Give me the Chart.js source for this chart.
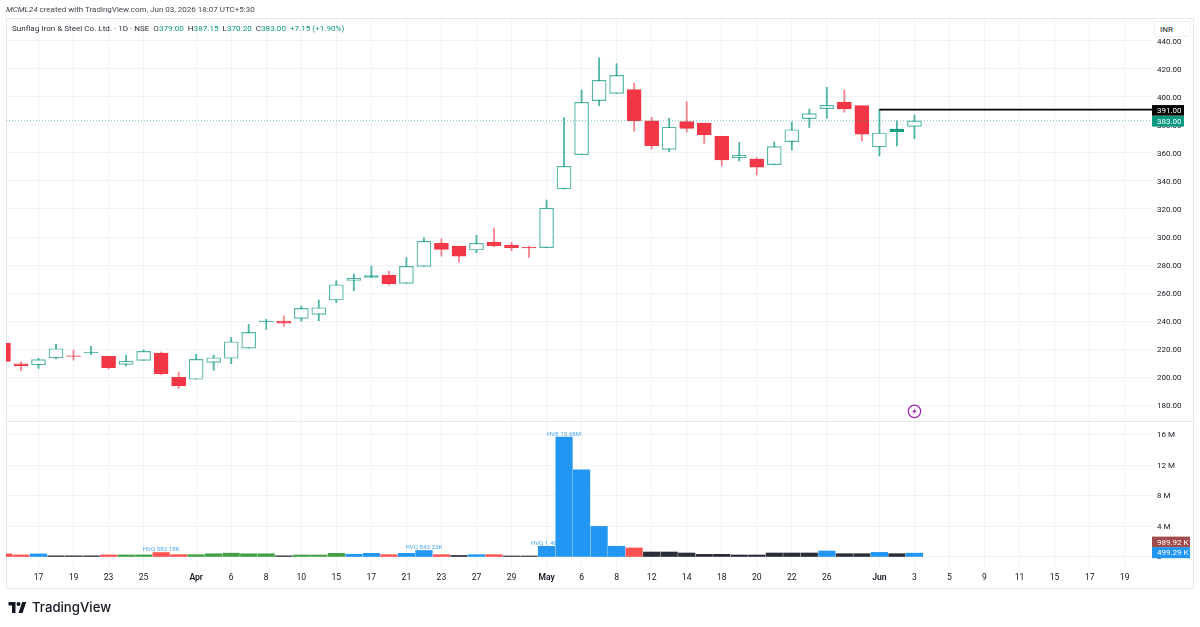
<!DOCTYPE html>
<html>
<head>
<meta charset="utf-8">
<title>Sunflag Iron & Steel Co. Ltd. 1D</title>
<style>
  html, body { margin: 0; padding: 0; background: #fff; }
  #wrap { position: relative; width: 1200px; height: 627px; overflow: hidden; font-family: Roboto, sans-serif; color: #131722; }
  #c { position: absolute; left: 0; top: 0; }
  .txt { position: absolute; white-space: nowrap; }
  #credit { left: 6px; top: 4.5px; font-size: 8px; color: #434651; }
  #credit i { font-style: italic; }
  #legend { left: 12px; top: 22.5px; font-size: 8.1px; color: #2a2e39; }
  #legend b { font-weight: 400; color: #089981; margin-right: 2px; }
  #unit { left: 1154px; top: 21px; width: 37px; height: 16px; box-sizing: border-box; border: 1px solid #eef0f5; border-radius: 3px;
          font-size: 8px; line-height: 16px; padding-left: 5px; background: #fff; }
  #brand { left: 32px; top: 599px; font-family: Inter, sans-serif; font-size: 13.2px; font-weight: 500; color: #131722; }
  #logo { position: absolute; left: 8px; top: 602px; }
</style>
</head>
<body>
<div id="wrap">
  <canvas id="c" width="1200" height="627"></canvas>
  <div class="txt" id="credit"><i>MCML24</i> created with TradingView.com, Jun 03, 2026 18:07 UTC+5:30</div>
  <div class="txt" id="legend">Sunflag Iron &amp; Steel Co. Ltd. · 1D · NSE &nbsp;O<b>379.00</b> H<b>387.15</b> L<b>370.20</b> C<b>383.00</b> <b>+7.15 (+1.90%)</b></div>
  <div class="txt" id="unit">INR</div>
  <svg id="logo" width="19" height="11" viewBox="0 0 36 22"><path fill="#131722" d="M14 22H7V7H0V0h14v22zM28 22h-8l7.5-22h8L28 22z"/><circle fill="#131722" cx="20" cy="4" r="4"/></svg>
  <div class="txt" id="brand">TradingView</div>
</div>

<script src="https://cdn.jsdelivr.net/npm/chart.js@4/dist/chart.umd.min.js"></script>
<script>
// Daily OHLC, one entry per session, oldest first
const opens = [224, 209.5, 208.6, 213.6, 215.2, 217.2, 214.8, 209, 211.9, 217.1, 199.8, 198.4, 210.5, 213.4, 220.7, 239.4, 240, 241.9, 244.8, 255,
  269, 271.2, 272.6, 266.9, 279, 295.5, 293.6, 290.7, 296.2, 294.3, 292.6, 292.4, 334.3, 358.8, 397.4, 402.6, 405.2, 382.9, 362.6, 382.4,
  381.4, 371.9, 356.7, 355.7, 351.7, 368.1, 384.5, 391.6, 396.4, 393.8, 364.3, 375.2, 379];
const highs = [224, 210.9, 213.4, 223.3, 219.3, 222, 214.8, 215.7, 219.3, 217.9, 203.6, 216.2, 215.7, 228.4, 237.6, 241.2, 243.6, 250.7, 255, 268.8,
  273.6, 279.3, 275.7, 285.2, 299.5, 298.8, 293.6, 301.2, 306.4, 296.2, 293.6, 326.4, 385.2, 405, 427.9, 423.8, 409.8, 385.5, 384.8, 396.6,
  381.4, 371.9, 367.6, 356.6, 367.9, 382.1, 391.4, 406.9, 405, 393.8, 391.2, 383, 387.15];
const lows = [211.1, 204.5, 206.2, 213.1, 212.1, 215.9, 205.9, 207.9, 211.9, 201.6, 191.7, 198.4, 204.8, 209.5, 220.7, 234, 236.2, 239.8, 240.2, 253.1,
  261.6, 271.2, 265.7, 266.9, 279, 286.4, 282.1, 288.8, 293.1, 290.2, 285.5, 292.4, 334.3, 358.8, 393.8, 402.6, 375.5, 362.9, 360.9, 375,
  366.9, 350.7, 354.3, 344.3, 351.7, 362.1, 378.1, 384.8, 389.1, 368.6, 357.9, 365, 370.2];
const closes = [211.1, 208, 212.4, 220.2, 214.8, 217.8, 206.6, 211.4, 218.3, 202.4, 193.6, 212.6, 213.8, 225.2, 231.9, 240, 238.5, 249, 249.5, 265.9,
  270.7, 272.4, 266.7, 279, 296.9, 291.2, 286.4, 295.5, 293.8, 292.4, 292.2, 320.7, 350.5, 396.2, 411.9, 415.4, 382.9, 365.2, 378.4, 377.6,
  372.9, 355, 358.4, 349.8, 364.5, 376.6, 388.1, 394, 391.4, 373.4, 374.3, 377, 383];

// Volume in millions and its indicator state: H high, G up, R down, K low
const volumes = [0.4, 0.27, 0.4, 0.15, 0.15, 0.15, 0.27, 0.27, 0.27, 0.58, 0.3, 0.3, 0.42, 0.5, 0.42, 0.42, 0.15, 0.26, 0.26, 0.48,
  0.35, 0.48, 0.3, 0.48, 0.84, 0.3, 0.2, 0.3, 0.3, 0.13, 0.13, 1.4, 15.68, 11.4, 4.0, 1.4, 1.18, 0.65, 0.65, 0.52,
  0.35, 0.35, 0.26, 0.26, 0.52, 0.52, 0.52, 0.78, 0.43, 0.43, 0.6, 0.43, 0.5];
const volumeStates = ['R', 'R', 'H', 'K', 'K', 'K', 'R', 'G', 'G', 'R', 'R', 'G', 'G', 'G', 'G', 'G', 'K', 'G', 'G', 'G',
  'H', 'H', 'R', 'H', 'H', 'R', 'K', 'H', 'R', 'K', 'K', 'H', 'H', 'H', 'H', 'H', 'R', 'K', 'K', 'K',
  'K', 'K', 'K', 'K', 'K', 'K', 'K', 'H', 'K', 'K', 'H', 'K', 'H'];

// Time axis
const timeTickIndex = [2, 4, 6, 8, 11, 13, 15, 17, 19, 21, 23, 25, 27, 29, 31, 33, 35, 37, 39, 41, 43, 45, 47, 50, 52, 54, 56, 58, 60, 62, 64];
const timeTickLabels = ['17', '19', '23', '25', 'Apr', '6', '8', '10', '15', '17', '21', '23', '27', '29', 'May', '6', '8', '12', '14', '18', '20', '22', '26', 'Jun', '3', '5', '9', '11', '15', '17', '19'];
const boldTimeLabels = ['Apr', 'May', 'Jun'];

const priceTicks = [180, 200, 220, 240, 260, 280, 300, 320, 340, 360, 380, 400, 420, 440];
const volumeTicks = [0, 4, 8, 12, 16];

// Volume flags above the bars
const flagIndex = [9, 24, 31, 32];
const flagVolumes = [0.58, 0.84, 1.4, 15.68];
const flagLabels = ['HVQ 582.18K', 'HVQ 843.23K', 'HVQ 1.40M', 'HVE 15.68M'];

// Sessions whose small body reads as a solid dash
const solidBodies = [51];

const lastPrice = 383;
const rayPrice = 391;
const rayStartIndex = 50;
const volumeAverage = 0.98992;
const lastVolume = 0.49929;
const earningsIndex = 52;
const earningsPrice = 175.5;

const xMin = 0.145;
const xMax = 65.56;

const UP = '#089981';
const UP_SOFT = 'rgba(8,153,129,0.7)';
const DOWN = '#f23645';
const GRID = '#f2f3f6';
const LINE = '#e6e8ed';
const STATE_COLORS = { H: '#2196f3', G: '#43a047', R: '#ff5252', K: '#2a2e39' };

const isUp = i => closes[i] >= opens[i];
const wicks = highs.map((h, i) => ({ x: i, y: [lows[i], h] }));
const bodies = opens.map((o, i) => ({ x: i, y: [Math.min(o, closes[i]), Math.max(o, closes[i])] }));

function bodyFill(i) {
  if (!isUp(i)) return DOWN;
  if (solidBodies.includes(i)) return UP;
  return Math.abs(closes[i] - opens[i]) < 1.5 ? UP_SOFT : '#fff';
}

function tag(ctx, text, right, y, h, w, bg) {
  ctx.fillStyle = bg;
  ctx.fillRect(right, y - h / 2, w, h);
  ctx.fillStyle = '#fff';
  ctx.font = '8px Roboto, sans-serif';
  ctx.textAlign = 'left';
  ctx.textBaseline = 'middle';
  ctx.fillText(text, right + 5, y + 0.5);
}

// Pane separators, outer frame and volume flags go under the bars
const underlay = {
  id: 'underlay',
  beforeDatasetsDraw(chart) {
    const { ctx, chartArea: a, scales } = chart;
    const sep = scales.y.bottom;
    ctx.save();
    ctx.strokeStyle = LINE;
    ctx.lineWidth = 1;
    ctx.beginPath();
    ctx.moveTo(a.left, sep + 0.5);
    ctx.lineTo(1193, sep + 0.5);
    ctx.strokeRect(a.left + 0.5, a.top + 0.5, 1193 - a.left, 588 - a.top);
    ctx.stroke();
    ctx.fillStyle = '#4aa8f5';
    ctx.font = '6.2px Roboto, sans-serif';
    ctx.textAlign = 'center';
    ctx.textBaseline = 'bottom';
    flagIndex.forEach((idx, n) => {
      ctx.fillText(flagLabels[n], scales.x.getPixelForValue(idx), scales.y1.getPixelForValue(flagVolumes[n]));
    });
    ctx.restore();
  }
};

// Value tags on the right hand axis and the earnings marker
const overlay = {
  id: 'overlay',
  afterDraw(chart) {
    const { ctx, chartArea: a, scales } = chart;
    ctx.save();
    tag(ctx, '391.00', a.right, scales.y.getPixelForValue(rayPrice) + 0.8, 10.6, 32, '#000');
    tag(ctx, '383.00', a.right, scales.y.getPixelForValue(lastPrice) + 0.5, 10.6, 32, UP);
    tag(ctx, '989.92 K', a.right, scales.y1.getPixelForValue(volumeAverage) - 7.4, 10.8, 38, '#a04c4c');
    tag(ctx, '499.29 K', a.right, scales.y1.getPixelForValue(lastVolume) - 0.5, 11, 38, '#2196f3');

    const mx = scales.x.getPixelForValue(earningsIndex);
    const my = scales.y.getPixelForValue(earningsPrice);
    ctx.strokeStyle = '#9c27b0';
    ctx.lineWidth = 1.2;
    ctx.beginPath();
    ctx.arc(mx, my, 6.2, 0, Math.PI * 2);
    ctx.fillStyle = '#fff';
    ctx.fill();
    ctx.stroke();
    ctx.fillStyle = '#9c27b0';
    ctx.beginPath();
    ctx.moveTo(mx + 1.6, my - 3.6);
    ctx.lineTo(mx - 2.4, my + 0.6);
    ctx.lineTo(mx - 0.2, my + 0.6);
    ctx.lineTo(mx - 1.6, my + 3.6);
    ctx.lineTo(mx + 2.4, my - 0.8);
    ctx.lineTo(mx + 0.2, my - 0.8);
    ctx.closePath();
    ctx.fill();
    ctx.restore();
  }
};

new Chart(document.getElementById('c'), {
  type: 'bar',
  data: {
    datasets: [
      {
        // Dotted last price line
        type: 'line',
        data: [{ x: xMin, y: lastPrice }, { x: xMax, y: lastPrice }],
        yAxisID: 'y',
        borderColor: 'rgba(8,153,129,0.55)',
        borderWidth: 1,
        borderDash: [1, 2],
        pointRadius: 0,
        order: 1
      },
      {
        // Horizontal ray
        type: 'line',
        data: [{ x: rayStartIndex, y: rayPrice }, { x: xMax, y: rayPrice }],
        yAxisID: 'y',
        borderColor: '#000',
        borderWidth: 1.6,
        pointRadius: 0,
        order: 0
      },
      {
        data: bodies,
        yAxisID: 'y',
        grouped: false,
        barThickness: 14,
        borderSkipped: false,
        borderWidth: 1.2,
        backgroundColor: bodies.map((b, i) => bodyFill(i)),
        borderColor: bodies.map((b, i) => isUp(i) ? (solidBodies.includes(i) ? UP : UP_SOFT) : DOWN),
        order: 2
      },
      {
        data: wicks,
        yAxisID: 'y',
        grouped: false,
        barThickness: 1.2,
        backgroundColor: wicks.map((w, i) => isUp(i) ? UP_SOFT : 'rgba(242,54,69,0.6)'),
        order: 3
      },
      {
        data: volumes.map((v, i) => ({ x: i, y: v })),
        yAxisID: 'y1',
        grouped: false,
        barThickness: 16.5,
        backgroundColor: volumeStates.map(s => STATE_COLORS[s]),
        order: 4
      }
    ]
  },
  plugins: [underlay, overlay],
  options: {
    responsive: false,
    animation: false,
    events: [],
    layout: { padding: { left: 6, top: 18, right: 8, bottom: 39 } },
    plugins: { legend: { display: false }, tooltip: { enabled: false } },
    scales: {
      x: {
        type: 'linear',
        offset: false,
        min: xMin,
        max: xMax,
        afterBuildTicks: s => { s.ticks = timeTickIndex.map(v => ({ value: v })); },
        afterFit: s => { s.height = 20; },
        border: { display: false },
        grid: { color: GRID, offset: false, drawTicks: false },
        ticks: {
          autoSkip: false,
          maxRotation: 0,
          padding: 5,
          color: '#131722',
          font: ctx => ({ family: 'Roboto, sans-serif', size: 8.6, weight: boldTimeLabels.includes(timeTickLabels[ctx.index]) ? '600' : '400' }),
          callback: (v, i) => timeTickLabels[i]
        }
      },
      y: {
        position: 'right',
        stack: 'panes',
        stackWeight: 403,
        min: 168.6,
        max: 456.4,
        afterBuildTicks: s => { s.ticks = priceTicks.map(v => ({ value: v })); },
        afterFit: s => { s.width = 40; },
        border: { display: false },
        grid: { color: GRID, drawTicks: false },
        ticks: {
          crossAlign: 'near',
          padding: 5,
          labelOffset: 1,
          color: '#131722',
          font: { family: 'Roboto, sans-serif', size: 8 },
          callback: v => v.toFixed(2)
        }
      },
      y1: {
        position: 'right',
        stack: 'panes',
        stackWeight: 147,
        min: -1.44,
        max: 17.78,
        afterBuildTicks: s => { s.ticks = volumeTicks.map(v => ({ value: v })); },
        afterFit: s => { s.width = 40; },
        border: { display: false },
        grid: { color: GRID, drawTicks: false },
        ticks: {
          crossAlign: 'near',
          padding: 5,
          labelOffset: 0.5,
          color: '#131722',
          font: { family: 'Roboto, sans-serif', size: 8 },
          callback: v => v === 0 ? '0' : v + ' M'
        }
      }
    }
  }
});
</script>
</body>
</html>
